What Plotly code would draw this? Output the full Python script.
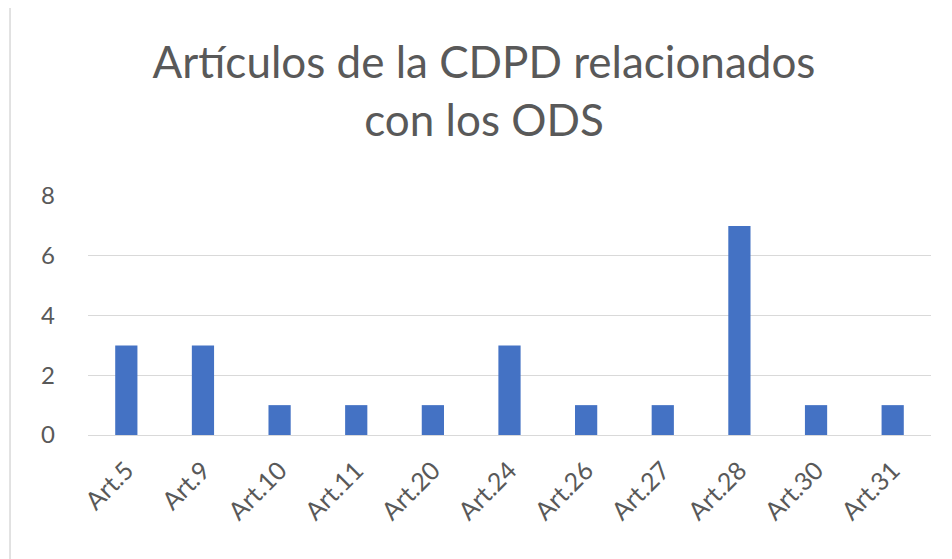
import plotly.graph_objects as go

categories = ["Art.5", "Art.9", "Art.10", "Art.11", "Art.20", "Art.24",
              "Art.26", "Art.27", "Art.28", "Art.30", "Art.31"]
values = [3, 3, 1, 1, 1, 3, 1, 1, 7, 1, 1]
y_ticks = [0, 2, 4, 6, 8]

fig = go.Figure(go.Bar(x=categories, y=values, marker_color="#4472C4",
                       marker_line_width=0))

fig.update_layout(
    width=952, height=559,
    margin=dict(l=80, r=29, t=188, b=132),
    paper_bgcolor="white", plot_bgcolor="white",
    bargap=0.71,
    showlegend=False,
    font=dict(family="Lato", color="#595959"),
    title=dict(text="Artículos de la CDPD relacionados<br>con los ODS",
               x=0.5, xanchor="center", y=0.874, yanchor="top",
               font=dict(size=44, color="#595959", family="Lato")),
)
fig.update_xaxes(tickangle=-45, tickfont=dict(size=25, color="#595959"),
                 showgrid=False, showline=True, linecolor="#D9D9D9", linewidth=1,
                 ticks="", ticklabelstandoff=10)
fig.update_yaxes(range=[0, 8], tickvals=y_ticks, tickfont=dict(size=24, color="#595959"),
                 showgrid=True, gridcolor="#D9D9D9", gridwidth=1,
                 zeroline=False, showline=False, ticklabelstandoff=32)
fig.add_shape(type="rect", xref="paper", yref="paper",
              x0=-0.0925, x1=1.5, y0=-1.0, y1=1.803,
              line=dict(color="#D9D9D9", width=1.5), fillcolor="rgba(0,0,0,0)",
              layer="below")

fig.write_html("out.html")
